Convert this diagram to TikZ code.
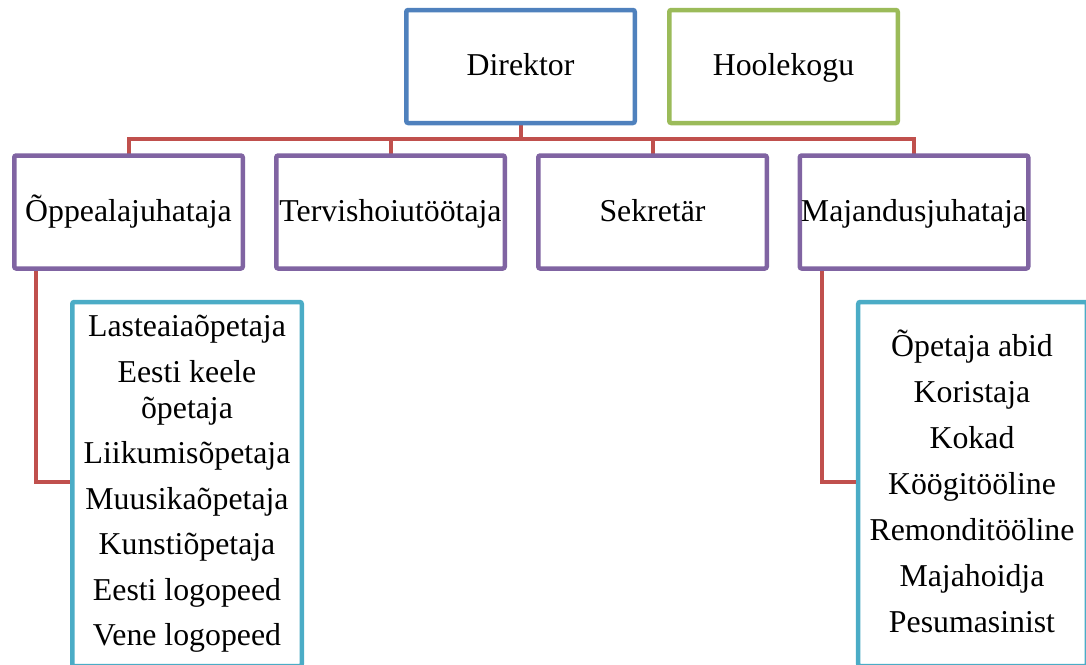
\documentclass[tikz,border=0pt]{standalone}
\usepackage{fontspec}
\setmainfont{Liberation Serif}
\definecolor{oblue}{HTML}{4F81BD}
\definecolor{ogreen}{HTML}{9BBB59}
\definecolor{ored}{HTML}{C0504D}
\definecolor{opurple}{HTML}{8064A2}
\definecolor{ocyan}{HTML}{4BACC6}
\begin{document}
\begin{tikzpicture}[x=1pt,y=-1pt,
  every node/.style={font=\fontsize{31.8}{36}\selectfont, inner sep=0pt},
  orgbox/.style={draw, line width=4.5pt, rounded corners=2pt, fill=white,
    minimum width=228.5pt, minimum height=113pt,
    text height=24.5pt, text depth=6pt},
  listbox/.style={draw=ocyan, line width=4.5pt, rounded corners=2pt, fill=white,
    minimum width=229.5pt, minimum height=364pt},
  listtext/.style={align=center},
  conn/.style={draw=ored, line width=4pt}]
\useasboundingbox (0,0) rectangle (1086,664);
\clip (0,0) rectangle (1086,664);
% coordinates
\coordinate (bus) at (0,139);
\coordinate (lx) at (36,0);
\coordinate (rx) at (822,0);
% second row positions
\coordinate (c1) at (128.5,212);
\coordinate (c2) at (390.5,212);
\coordinate (c3) at (652.5,212);
\coordinate (c4) at (914,212);
\coordinate (d0) at (520.5,66.5);
% connectors (behind boxes)
\draw[conn] (d0) -- (d0 |- bus);
\draw[conn] (c1) -- (c1 |- bus) -- (c4 |- bus) -- (c4);
\draw[conn] (c2) -- (c2 |- bus);
\draw[conn] (c3) -- (c3 |- bus);
% list boxes
\node[listbox] (lbox) at (187,484) {};
\node[listbox, minimum width=228.75pt] (rbox) at (972.6,484) {};
\draw[conn] (lx |- c1) |- (lbox.west |- 0,482);
\draw[conn] (rx |- c1) |- (rbox.west |- 0,482);
% top row
\node[orgbox, draw=oblue] (dir) at (d0) {Direktor};
\node[orgbox, draw=ogreen] (hool) at (783.5,66.5) {Hoolekogu};
% second row boxes
\node[orgbox, draw=opurple] (b1) at (c1) {Õppealajuhataja};
\node[orgbox, draw=opurple] (b2) at (c2) {Tervishoiutöötaja};
\node[orgbox, draw=opurple] (b3) at (c3) {Sekretär};
\node[orgbox, draw=opurple] (b4) at (c4) {Majandusjuhataja};
% list texts
\node[listtext] (ltext) at (187,484) {Lasteaiaõpetaja\\[9.5pt]Eesti keele\\õpetaja\\[9.5pt]Liikumisõpetaja\\[9.5pt]Muusikaõpetaja\\[9.5pt]Kunstiõpetaja\\[9.5pt]Eesti logopeed\\[9.5pt]Vene logopeed};
\node[listtext] (rtext) at (972,481) {Õpetaja abid\\[10pt]Koristaja\\[10pt]Kokad\\[10pt]Köögitööline\\[10pt]Remonditööline\\[10pt]Majahoidja\\[10pt]Pesumasinist};
\end{tikzpicture}
\end{document}
